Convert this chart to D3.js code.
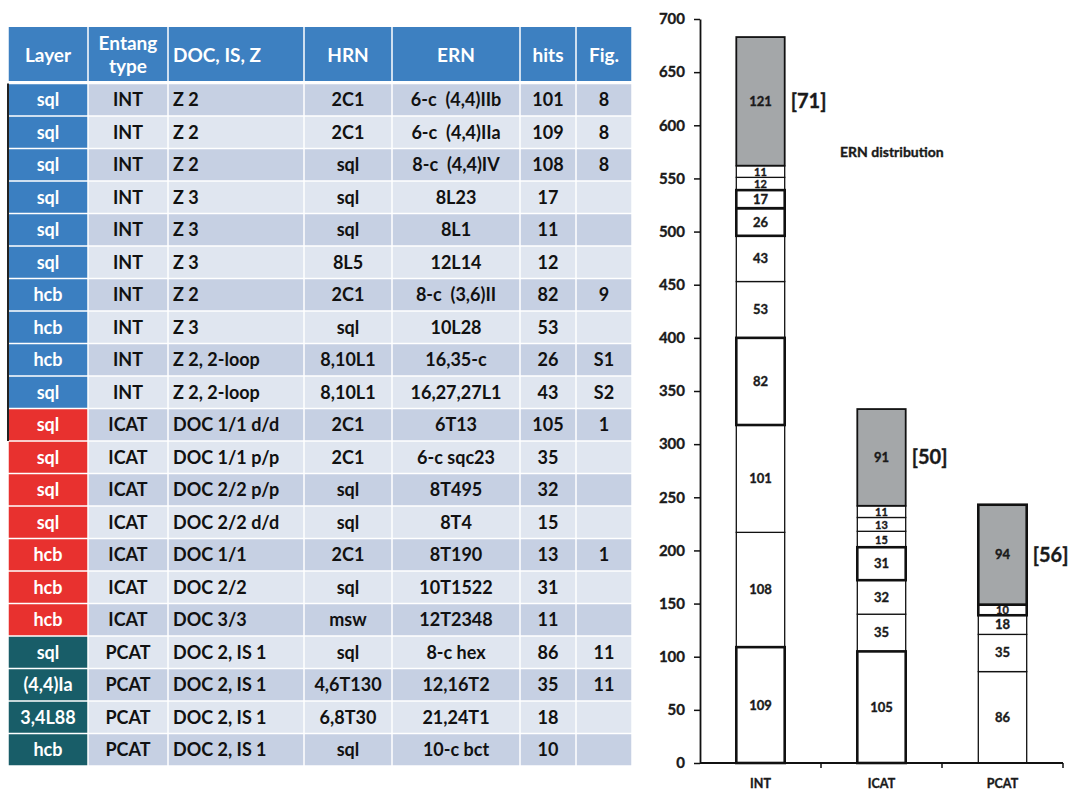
<!DOCTYPE html>
<html>
<head>
<meta charset="utf-8">
<script src="https://cdn.jsdelivr.net/npm/d3@7"></script>
<style>
  html, body { margin: 0; padding: 0; background: #fff; }
  svg text { font-family: Lato, "Open Sans", sans-serif; font-weight: bold; white-space: pre; }
  .heavy { stroke: #1a1a1a; stroke-width: 0.35px; }
</style>
</head>
<body>
<svg id="fig" width="1072" height="790"></svg>
<script>
// ---------------- TABLE DATA ----------------
const headers = [["Layer"], ["Entang", "type"], ["DOC, IS, Z"], ["HRN"], ["ERN"], ["hits"], ["Fig."]];
const layerCol = ["sql","sql","sql","sql","sql","sql","hcb","hcb","hcb","sql","sql","sql","sql","sql","hcb","hcb","hcb","sql","(4,4)Ia","3,4L88","hcb"];
const typeCol = ["INT","INT","INT","INT","INT","INT","INT","INT","INT","INT","ICAT","ICAT","ICAT","ICAT","ICAT","ICAT","ICAT","PCAT","PCAT","PCAT","PCAT"];
const docCol = ["Z 2","Z 2","Z 2","Z 3","Z 3","Z 3","Z 2","Z 3","Z 2, 2-loop","Z 2, 2-loop","DOC 1/1 d/d","DOC 1/1 p/p","DOC 2/2 p/p","DOC 2/2 d/d","DOC 1/1","DOC 2/2","DOC 3/3","DOC 2, IS 1","DOC 2, IS 1","DOC 2, IS 1","DOC 2, IS 1"];
const hrnCol = ["2C1","2C1","sql","sql","sql","8L5","2C1","sql","8,10L1","8,10L1","2C1","2C1","sql","sql","2C1","sql","msw","sql","4,6T130","6,8T30","sql"];
const ernCol = ["6-c  (4,4)IIb","6-c  (4,4)IIa","8-c  (4,4)IV","8L23","8L1","12L14","8-c  (3,6)II","10L28","16,35-c","16,27,27L1","6T13","6-c sqc23","8T495","8T4","8T190","10T1522","12T2348","8-c hex","12,16T2","21,24T1","10-c bct"];
const hitsCol = [101,109,108,17,11,12,82,53,26,43,105,35,32,15,13,31,11,86,35,18,10];
const figCol = ["8","8","8","","","","9","","S1","S2","1","","","","1","","","11","11","",""];

// ---------------- CHART DATA ----------------
const categories = ["INT", "ICAT", "PCAT"];
const intHits = [109,108,101,82,53,43,26,17,12,11];
const icatHits = [105,35,32,31,15,13,11];
const pcatHits = [86,35,18,10];
const otherHits = [121,91,94];
const otherCounts = ["[71]","[50]","[56]"];
const yTicks = [0,50,100,150,200,250,300,350,400,450,500,550,600,650,700];
const chartTitle = "ERN distribution";

const svg = d3.select("#fig");

// ================= TABLE =================
const colEdges = [8, 88, 168, 304, 392, 520, 576, 632];
const colAlign = ["middle","middle","start","middle","middle","middle","middle"];
const headerTop = 27, headerBottom = 82;
const rowsTop = 83.5, rowsBottom = 766;
const typeColor = { INT: "#3b7fc1", ICAT: "#e8312f", PCAT: "#185d68" };
const rowDark = "#c6d0e3", rowLight = "#e0e6f0";

const rowScale = d3.scaleBand().domain(d3.range(layerCol.length)).range([rowsTop, rowsBottom]).padding(0);
const tbl = svg.append("g");

headers.forEach((h, i) => {
  const x0 = colEdges[i], x1 = colEdges[i + 1];
  tbl.append("rect").attr("x", x0 + 0.75).attr("y", headerTop).attr("width", x1 - x0 - 1.5).attr("height", headerBottom - headerTop - 1)
    .attr("fill", "#3d80c1");
  const cx = colAlign[i] === "start" ? x0 + 5 : (x0 + x1) / 2;
  const mid = (headerTop + headerBottom) / 2;
  h.forEach((line, k) => {
    const yy = mid + 7 + (k - (h.length - 1) / 2) * 23;
    tbl.append("text").attr("x", cx).attr("y", yy).attr("text-anchor", colAlign[i])
      .attr("fill", "#fff").attr("font-size", 19).text(line);
  });
});

const columns = [layerCol, typeCol, docCol, hrnCol, ernCol, hitsCol, figCol];
layerCol.forEach((_, r) => {
  const y0 = rowScale(r), hgt = rowScale.bandwidth();
  columns.forEach((col, c) => {
    const x0 = colEdges[c], x1 = colEdges[c + 1];
    const fill = c === 0 ? typeColor[typeCol[r]] : (r % 2 === 0 ? rowDark : rowLight);
    tbl.append("rect").attr("x", x0 + 0.75).attr("y", y0 + 0.75).attr("width", x1 - x0 - 1.5).attr("height", hgt - 1.5)
      .attr("fill", fill);
    const cx = colAlign[c] === "start" ? x0 + 5 : (x0 + x1) / 2;
    tbl.append("text").attr("x", cx).attr("y", y0 + hgt / 2 + 6.5).attr("text-anchor", colAlign[c])
      .attr("fill", c === 0 ? "#fff" : "#111").attr("font-size", 18).text(col[r]);
  });
});
tbl.append("line").attr("x1", 8).attr("x2", 8).attr("y1", rowScale(0)).attr("y2", rowScale(10) + rowScale.bandwidth())
  .attr("stroke", "#222").attr("stroke-width", 2);

// ================= CHART =================
const chart = svg.append("g");
const x = d3.scaleBand().domain(categories).range([700, 1063]).paddingInner(0.6).paddingOuter(0.3);
const y = d3.scaleLinear().domain([0, 700]).range([763, 19]);

const stacks = [intHits, icatHits, pcatHits];
const thick = { INT: [109, 82, 26, 17], ICAT: [105, 31], PCAT: [10, 94] };

categories.forEach((cat, i) => {
  const vals = stacks[i];
  let cum = 0;
  const segs = vals.map(v => { const s = { v, y0: cum, y1: cum + v, other: false }; cum += v; return s; });
  segs.push({ v: otherHits[i], y0: cum, y1: cum + otherHits[i], other: true });
  const bx = x(cat), bw = x.bandwidth();
  const g = chart.append("g");
  const ordered = segs.slice().sort((a, b) => (thick[cat].includes(a.v) ? 1 : 0) - (thick[cat].includes(b.v) ? 1 : 0));
  ordered.forEach(s => {
    const isThick = thick[cat].includes(s.v);
    g.append("rect").attr("x", bx).attr("width", bw)
      .attr("y", y(s.y1)).attr("height", y(s.y0) - y(s.y1))
      .attr("fill", s.other ? "#a4a7a9" : "#fff")
      .attr("stroke", "#111").attr("stroke-width", isThick ? 2.6 : (s.other ? 1.8 : 1.3));
  });
  segs.forEach(s => {
    const h = y(s.y0) - y(s.y1);
    const small = h < 16;
    g.append("text").attr("class", "heavy").attr("x", bx + bw / 2).attr("y", (y(s.y0) + y(s.y1)) / 2 + 4.5)
      .attr("text-anchor", "middle").attr("font-size", small ? 11 : 13).attr("fill", "#1a1a1a").text(s.v);
  });
  const top = segs[segs.length - 1];
  g.append("text").attr("class", "heavy").attr("x", bx + bw + 6).attr("y", (y(top.y0) + y(top.y1)) / 2 + 7)
    .attr("font-size", 20).attr("fill", "#1a1a1a").text(otherCounts[i]);
});

const yAxis = chart.append("g").attr("transform", "translate(700,0)")
  .call(d3.axisLeft(y).tickValues(yTicks).tickSize(6).tickPadding(9).tickSizeOuter(0));
yAxis.select(".domain").attr("stroke", "#111").attr("stroke-width", 1.8);
yAxis.selectAll(".tick line").attr("stroke", "#111").attr("stroke-width", 1.5);
yAxis.selectAll(".tick text").attr("class", "heavy").attr("font-size", 15).attr("fill", "#1a1a1a")
  .style("font-family", "Lato, sans-serif").style("font-weight", "bold");

const xAxisG = chart.append("g").attr("transform", "translate(0,763)");
xAxisG.append("line").attr("x1", 700).attr("x2", 1063).attr("stroke", "#111").attr("stroke-width", 1.8);
const step = x.step();
categories.forEach((cat) => {
  const edge = x(cat) + x.bandwidth() / 2 + step / 2;
  xAxisG.append("line").attr("x1", edge).attr("x2", edge).attr("y1", 0).attr("y2", 5).attr("stroke", "#111").attr("stroke-width", 1.5);
  xAxisG.append("text").attr("class", "heavy").attr("x", x(cat) + x.bandwidth() / 2).attr("y", 25).attr("text-anchor", "middle")
    .attr("font-size", 12.5).attr("fill", "#1a1a1a").text(cat);
});

chart.append("text").attr("class", "heavy").attr("x", 840).attr("y", 157).attr("font-size", 14).attr("fill", "#1a1a1a").text(chartTitle);
</script>
</body>
</html>
